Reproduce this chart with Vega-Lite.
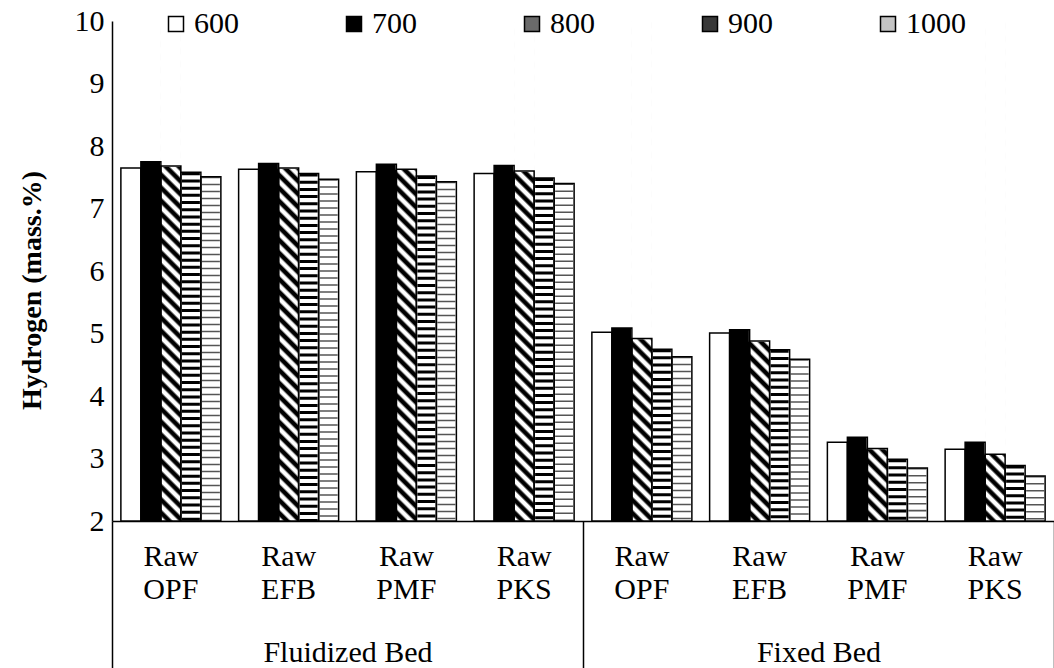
{
  "$schema": "https://vega.github.io/schema/vega-lite/v6.json",
  "width": 942,
  "height": 500,
  "autosize": {"type": "none"},
  "padding": {"left": 112, "top": 21, "right": 0, "bottom": 147},
  "background": "white",
  "config": {
    "view": {"stroke": null},
    "font": "Liberation Serif",
    "style": {"guide-label": {"font": "Liberation Serif", "fill": "black"}, "guide-title": {"font": "Liberation Serif", "fill": "black"}},
    "axis": {"grid": false, "labelColor": "black", "titleColor": "black", "labelFont": "Liberation Serif", "titleFont": "Liberation Serif"},
    "axisY": {"ticks": false, "domainColor": "black", "domainWidth": 1.5, "labelFontSize": 30, "labelPadding": 8, "tickCount": 8, "titleFontSize": 28, "titleFontWeight": "bold", "titlePadding": 28, "titleY": 269},
    "legend": {"labelFont": "'Liberation Serif', 'Times New Roman', serif", "labelColor": "black"}
  },
  "data": {
    "values": [
      {"bed": "Fluidized Bed", "sample": "F-Raw OPF", "temp": "600", "value": 7.65},
      {"bed": "Fluidized Bed", "sample": "F-Raw OPF", "temp": "700", "value": 7.75},
      {"bed": "Fluidized Bed", "sample": "F-Raw OPF", "temp": "800", "value": 7.68},
      {"bed": "Fluidized Bed", "sample": "F-Raw OPF", "temp": "900", "value": 7.58},
      {"bed": "Fluidized Bed", "sample": "F-Raw OPF", "temp": "1000", "value": 7.51},
      {"bed": "Fluidized Bed", "sample": "F-Raw EFB", "temp": "600", "value": 7.63},
      {"bed": "Fluidized Bed", "sample": "F-Raw EFB", "temp": "700", "value": 7.72},
      {"bed": "Fluidized Bed", "sample": "F-Raw EFB", "temp": "800", "value": 7.65},
      {"bed": "Fluidized Bed", "sample": "F-Raw EFB", "temp": "900", "value": 7.56},
      {"bed": "Fluidized Bed", "sample": "F-Raw EFB", "temp": "1000", "value": 7.47},
      {"bed": "Fluidized Bed", "sample": "F-Raw PMF", "temp": "600", "value": 7.59},
      {"bed": "Fluidized Bed", "sample": "F-Raw PMF", "temp": "700", "value": 7.71},
      {"bed": "Fluidized Bed", "sample": "F-Raw PMF", "temp": "800", "value": 7.63},
      {"bed": "Fluidized Bed", "sample": "F-Raw PMF", "temp": "900", "value": 7.52},
      {"bed": "Fluidized Bed", "sample": "F-Raw PMF", "temp": "1000", "value": 7.43},
      {"bed": "Fluidized Bed", "sample": "F-Raw PKS", "temp": "600", "value": 7.56},
      {"bed": "Fluidized Bed", "sample": "F-Raw PKS", "temp": "700", "value": 7.69},
      {"bed": "Fluidized Bed", "sample": "F-Raw PKS", "temp": "800", "value": 7.60},
      {"bed": "Fluidized Bed", "sample": "F-Raw PKS", "temp": "900", "value": 7.49},
      {"bed": "Fluidized Bed", "sample": "F-Raw PKS", "temp": "1000", "value": 7.40},
      {"bed": "Fixed Bed", "sample": "X-Raw OPF", "temp": "600", "value": 5.02},
      {"bed": "Fixed Bed", "sample": "X-Raw OPF", "temp": "700", "value": 5.09},
      {"bed": "Fixed Bed", "sample": "X-Raw OPF", "temp": "800", "value": 4.92},
      {"bed": "Fixed Bed", "sample": "X-Raw OPF", "temp": "900", "value": 4.75},
      {"bed": "Fixed Bed", "sample": "X-Raw OPF", "temp": "1000", "value": 4.63},
      {"bed": "Fixed Bed", "sample": "X-Raw EFB", "temp": "600", "value": 5.01},
      {"bed": "Fixed Bed", "sample": "X-Raw EFB", "temp": "700", "value": 5.06},
      {"bed": "Fixed Bed", "sample": "X-Raw EFB", "temp": "800", "value": 4.88},
      {"bed": "Fixed Bed", "sample": "X-Raw EFB", "temp": "900", "value": 4.74},
      {"bed": "Fixed Bed", "sample": "X-Raw EFB", "temp": "1000", "value": 4.59},
      {"bed": "Fixed Bed", "sample": "X-Raw PMF", "temp": "600", "value": 3.26},
      {"bed": "Fixed Bed", "sample": "X-Raw PMF", "temp": "700", "value": 3.34},
      {"bed": "Fixed Bed", "sample": "X-Raw PMF", "temp": "800", "value": 3.16},
      {"bed": "Fixed Bed", "sample": "X-Raw PMF", "temp": "900", "value": 2.99},
      {"bed": "Fixed Bed", "sample": "X-Raw PMF", "temp": "1000", "value": 2.85},
      {"bed": "Fixed Bed", "sample": "X-Raw PKS", "temp": "600", "value": 3.15},
      {"bed": "Fixed Bed", "sample": "X-Raw PKS", "temp": "700", "value": 3.26},
      {"bed": "Fixed Bed", "sample": "X-Raw PKS", "temp": "800", "value": 3.07},
      {"bed": "Fixed Bed", "sample": "X-Raw PKS", "temp": "900", "value": 2.89},
      {"bed": "Fixed Bed", "sample": "X-Raw PKS", "temp": "1000", "value": 2.72}
    ]
  },
  "layer": [
    {
      "encoding": {
        "x": {
          "field": "sample",
          "type": "nominal",
          "scale": {
            "domain": ["F-Raw OPF", "F-Raw EFB", "F-Raw PMF", "F-Raw PKS", "X-Raw OPF", "X-Raw EFB", "X-Raw PMF", "X-Raw PKS"],
            "paddingInner": 0,
            "paddingOuter": 0
          },
          "axis": {
            "orient": "bottom",
            "title": null,
            "labelAngle": 0,
            "ticks": false,
            "domain": true,
            "domainColor": "black",
            "domainWidth": 1.5,
            "labelPadding": 20,
            "labelFontSize": 30,
            "labelLineHeight": 33,
            "labelExpr": "split(slice(datum.label, 2), ' ')"
          }
        },
        "xOffset": {
          "field": "temp",
          "type": "nominal",
          "scale": {"domain": ["600", "700", "800", "900", "1000"], "paddingInner": 0, "paddingOuter": 0.44375}
        }
      },
      "layer": [
        {
          "mark": {"type": "bar", "strokeWidth": 0},
          "encoding": {
            "y": {"field": "value", "type": "quantitative", "scale": {"domain": [2, 10], "nice": false, "zero": false}, "title": "Hydrogen (mass.%)"},
            "y2": {"datum": 2},
            "fill": {
              "field": "temp",
              "type": "nominal",
              "scale": {"domain": ["600", "700", "800", "900", "1000"], "range": ["#ffffff", "#000000", "#6a6a6a", "#383838", "#c4c4c4"]},
              "legend": {
                "title": null,
                "orient": "none",
                "legendX": 49,
                "legendY": -12,
                "direction": "horizontal",
                "columns": 5,
                "columnPadding": 100,
                "labelOffset": 3,
                "symbolType": "square",
                "symbolSize": 225,
                "symbolStrokeColor": "black",
                "symbolStrokeWidth": 1.5,
                "symbolOpacity": 1,
                "labelFontSize": 30,
                "labelColor": "black",
                "labelFont": "'Liberation Serif', 'Times New Roman', serif",
                "padding": 0
              }
            }
          }
        },
        {
          "transform": [{"filter": "datum.temp == '800'"}],
          "mark": {
            "type": "bar",
            "strokeWidth": 0,
            "fill": {
              "gradient": "linear",
              "x1": 1, "y1": 0, "x2": 0.9585, "y2": 1.0383,
              "stops": [
                {"offset": 0, "color": "#fff"}, {"offset": 0.005, "color": "#000"}, {"offset": 0.0125, "color": "#000"}, {"offset": 0.0175, "color": "#fff"},
                {"offset": 0.025, "color": "#fff"}, {"offset": 0.03, "color": "#000"}, {"offset": 0.0375, "color": "#000"}, {"offset": 0.0425, "color": "#fff"},
                {"offset": 0.05, "color": "#fff"}, {"offset": 0.055, "color": "#000"}, {"offset": 0.0625, "color": "#000"}, {"offset": 0.0675, "color": "#fff"},
                {"offset": 0.075, "color": "#fff"}, {"offset": 0.08, "color": "#000"}, {"offset": 0.0875, "color": "#000"}, {"offset": 0.0925, "color": "#fff"},
                {"offset": 0.1, "color": "#fff"}, {"offset": 0.105, "color": "#000"}, {"offset": 0.1125, "color": "#000"}, {"offset": 0.1175, "color": "#fff"},
                {"offset": 0.125, "color": "#fff"}, {"offset": 0.13, "color": "#000"}, {"offset": 0.1375, "color": "#000"}, {"offset": 0.1425, "color": "#fff"},
                {"offset": 0.15, "color": "#fff"}, {"offset": 0.155, "color": "#000"}, {"offset": 0.1625, "color": "#000"}, {"offset": 0.1675, "color": "#fff"},
                {"offset": 0.175, "color": "#fff"}, {"offset": 0.18, "color": "#000"}, {"offset": 0.1875, "color": "#000"}, {"offset": 0.1925, "color": "#fff"},
                {"offset": 0.2, "color": "#fff"}, {"offset": 0.205, "color": "#000"}, {"offset": 0.2125, "color": "#000"}, {"offset": 0.2175, "color": "#fff"},
                {"offset": 0.225, "color": "#fff"}, {"offset": 0.23, "color": "#000"}, {"offset": 0.2375, "color": "#000"}, {"offset": 0.2425, "color": "#fff"},
                {"offset": 0.25, "color": "#fff"}, {"offset": 0.255, "color": "#000"}, {"offset": 0.2625, "color": "#000"}, {"offset": 0.2675, "color": "#fff"},
                {"offset": 0.275, "color": "#fff"}, {"offset": 0.28, "color": "#000"}, {"offset": 0.2875, "color": "#000"}, {"offset": 0.2925, "color": "#fff"},
                {"offset": 0.3, "color": "#fff"}, {"offset": 0.305, "color": "#000"}, {"offset": 0.3125, "color": "#000"}, {"offset": 0.3175, "color": "#fff"},
                {"offset": 0.325, "color": "#fff"}, {"offset": 0.33, "color": "#000"}, {"offset": 0.3375, "color": "#000"}, {"offset": 0.3425, "color": "#fff"},
                {"offset": 0.35, "color": "#fff"}, {"offset": 0.355, "color": "#000"}, {"offset": 0.3625, "color": "#000"}, {"offset": 0.3675, "color": "#fff"},
                {"offset": 0.375, "color": "#fff"}, {"offset": 0.38, "color": "#000"}, {"offset": 0.3875, "color": "#000"}, {"offset": 0.3925, "color": "#fff"},
                {"offset": 0.4, "color": "#fff"}, {"offset": 0.405, "color": "#000"}, {"offset": 0.4125, "color": "#000"}, {"offset": 0.4175, "color": "#fff"},
                {"offset": 0.425, "color": "#fff"}, {"offset": 0.43, "color": "#000"}, {"offset": 0.4375, "color": "#000"}, {"offset": 0.4425, "color": "#fff"},
                {"offset": 0.45, "color": "#fff"}, {"offset": 0.455, "color": "#000"}, {"offset": 0.4625, "color": "#000"}, {"offset": 0.4675, "color": "#fff"},
                {"offset": 0.475, "color": "#fff"}, {"offset": 0.48, "color": "#000"}, {"offset": 0.4875, "color": "#000"}, {"offset": 0.4925, "color": "#fff"},
                {"offset": 0.5, "color": "#fff"}, {"offset": 0.505, "color": "#000"}, {"offset": 0.5125, "color": "#000"}, {"offset": 0.5175, "color": "#fff"},
                {"offset": 0.525, "color": "#fff"}, {"offset": 0.53, "color": "#000"}, {"offset": 0.5375, "color": "#000"}, {"offset": 0.5425, "color": "#fff"},
                {"offset": 0.55, "color": "#fff"}, {"offset": 0.555, "color": "#000"}, {"offset": 0.5625, "color": "#000"}, {"offset": 0.5675, "color": "#fff"},
                {"offset": 0.575, "color": "#fff"}, {"offset": 0.58, "color": "#000"}, {"offset": 0.5875, "color": "#000"}, {"offset": 0.5925, "color": "#fff"},
                {"offset": 0.6, "color": "#fff"}, {"offset": 0.605, "color": "#000"}, {"offset": 0.6125, "color": "#000"}, {"offset": 0.6175, "color": "#fff"},
                {"offset": 0.625, "color": "#fff"}, {"offset": 0.63, "color": "#000"}, {"offset": 0.6375, "color": "#000"}, {"offset": 0.6425, "color": "#fff"},
                {"offset": 0.65, "color": "#fff"}, {"offset": 0.655, "color": "#000"}, {"offset": 0.6625, "color": "#000"}, {"offset": 0.6675, "color": "#fff"},
                {"offset": 0.675, "color": "#fff"}, {"offset": 0.68, "color": "#000"}, {"offset": 0.6875, "color": "#000"}, {"offset": 0.6925, "color": "#fff"},
                {"offset": 0.7, "color": "#fff"}, {"offset": 0.705, "color": "#000"}, {"offset": 0.7125, "color": "#000"}, {"offset": 0.7175, "color": "#fff"},
                {"offset": 0.725, "color": "#fff"}, {"offset": 0.73, "color": "#000"}, {"offset": 0.7375, "color": "#000"}, {"offset": 0.7425, "color": "#fff"},
                {"offset": 0.75, "color": "#fff"}, {"offset": 0.755, "color": "#000"}, {"offset": 0.7625, "color": "#000"}, {"offset": 0.7675, "color": "#fff"},
                {"offset": 0.775, "color": "#fff"}, {"offset": 0.78, "color": "#000"}, {"offset": 0.7875, "color": "#000"}, {"offset": 0.7925, "color": "#fff"},
                {"offset": 0.8, "color": "#fff"}, {"offset": 0.805, "color": "#000"}, {"offset": 0.8125, "color": "#000"}, {"offset": 0.8175, "color": "#fff"},
                {"offset": 0.825, "color": "#fff"}, {"offset": 0.83, "color": "#000"}, {"offset": 0.8375, "color": "#000"}, {"offset": 0.8425, "color": "#fff"},
                {"offset": 0.85, "color": "#fff"}, {"offset": 0.855, "color": "#000"}, {"offset": 0.8625, "color": "#000"}, {"offset": 0.8675, "color": "#fff"},
                {"offset": 0.875, "color": "#fff"}, {"offset": 0.88, "color": "#000"}, {"offset": 0.8875, "color": "#000"}, {"offset": 0.8925, "color": "#fff"},
                {"offset": 0.9, "color": "#fff"}, {"offset": 0.905, "color": "#000"}, {"offset": 0.9125, "color": "#000"}, {"offset": 0.9175, "color": "#fff"},
                {"offset": 0.925, "color": "#fff"}, {"offset": 0.93, "color": "#000"}, {"offset": 0.9375, "color": "#000"}, {"offset": 0.9425, "color": "#fff"},
                {"offset": 0.95, "color": "#fff"}, {"offset": 0.955, "color": "#000"}, {"offset": 0.9625, "color": "#000"}, {"offset": 0.9675, "color": "#fff"},
                {"offset": 0.975, "color": "#fff"}, {"offset": 0.98, "color": "#000"}, {"offset": 0.9875, "color": "#000"}, {"offset": 0.9925, "color": "#fff"},
                {"offset": 1, "color": "#fff"}
              ]
            }
          },
          "encoding": {
            "y": {"datum": 10, "type": "quantitative", "scale": {"domain": [2, 10], "nice": false, "zero": false}, "title": "Hydrogen (mass.%)"},
            "y2": {"datum": 2}
          }
        },
        {
          "transform": [{"filter": "datum.temp == '800'"}],
          "mark": {"type": "bar", "fill": "white", "stroke": "white", "strokeWidth": 1.5},
          "encoding": {
            "y": {"field": "value", "type": "quantitative", "scale": {"domain": [2, 10], "nice": false, "zero": false}, "title": "Hydrogen (mass.%)"},
            "y2": {"datum": 10}
          }
        },
        {
          "transform": [{"filter": "datum.temp == '900' || datum.temp == '1000'"}],
          "mark": {"type": "bar", "fill": "white", "strokeWidth": 0},
          "encoding": {
            "y": {"field": "value", "type": "quantitative", "scale": {"domain": [2, 10], "nice": false, "zero": false}, "title": "Hydrogen (mass.%)"},
            "y2": {"datum": 2}
          }
        },
        {
          "transform": [{"filter": "datum.temp == '900'"}],
          "mark": {"type": "rule", "stroke": "black", "strokeWidth": 18, "strokeDash": [3, 4.2]},
          "encoding": {
            "y": {"field": "value", "type": "quantitative", "scale": {"domain": [2, 10], "nice": false, "zero": false}, "title": "Hydrogen (mass.%)"},
            "y2": {"datum": 2}
          }
        },
        {
          "transform": [{"filter": "datum.temp == '1000'"}],
          "mark": {"type": "rule", "stroke": "#555555", "strokeWidth": 18, "strokeDash": [1.6, 5.4]},
          "encoding": {
            "y": {"field": "value", "type": "quantitative", "scale": {"domain": [2, 10], "nice": false, "zero": false}, "title": "Hydrogen (mass.%)"},
            "y2": {"datum": 2}
          }
        },
        {
          "mark": {"type": "bar", "fill": "transparent", "stroke": "black", "strokeWidth": 1.5},
          "encoding": {
            "y": {"field": "value", "type": "quantitative", "scale": {"domain": [2, 10], "nice": false, "zero": false}, "title": "Hydrogen (mass.%)"},
            "y2": {"datum": 2}
          }
        }
      ]
    },
    {
      "mark": {"type": "bar", "opacity": 0},
      "encoding": {
        "x": {
          "field": "bed",
          "type": "nominal",
          "scale": {"domain": ["Fluidized Bed", "Fixed Bed"], "paddingInner": 0, "paddingOuter": 0},
          "axis": {
            "orient": "bottom",
            "title": null,
            "labelAngle": 0,
            "domain": false,
            "ticks": true,
            "tickBand": "extent",
            "tickExtra": false,
            "tickSize": 147,
            "tickColor": "black",
            "tickWidth": 1.5,
            "labelPadding": -31,
            "labelFontSize": 30
          }
        },
        "y": {"field": "value", "type": "quantitative", "scale": {"domain": [2, 10], "nice": false, "zero": false}, "title": "Hydrogen (mass.%)"},
        "y2": {"datum": 2}
      }
    }
  ],
  "resolve": {"scale": {"x": "independent"}, "axis": {"x": "independent"}}
}
